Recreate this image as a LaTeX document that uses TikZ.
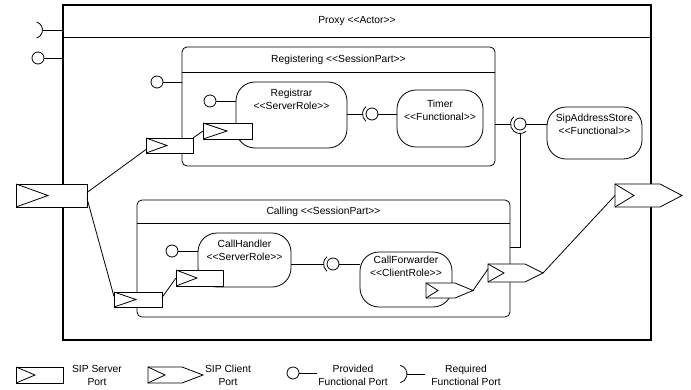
\documentclass[tikz,border=0pt]{standalone}
\usepackage{fontspec}
\setmainfont{Liberation Sans}
\usetikzlibrary{calc}
\newcommand\stlt{<\kern0pt<}
\newcommand\stgt{>\kern0pt>}
\tikzset{
  ln/.style={line width=0.8pt},
  box/.style={draw, line width=0.8pt, inner sep=0pt, outer sep=0pt, anchor=north west},
  sessbox/.style={box, rounded corners=5pt},
  rolebox/.style={box, rounded corners=19pt},
  lbl/.style={font=\fontsize{10.3}{13}\selectfont, align=center, inner sep=0pt},
  portbox/.style={draw, fill=white, line width=0.8pt, inner sep=0pt, outer sep=0pt, anchor=north west},
}
\newcommand\srvport[6]{%
  \node[portbox, minimum width=#4pt, minimum height=#5pt] (#1) at (#2,#3) {};
  \draw[ln] (#1.north west) -- ([xshift=#6pt]#1.west) -- (#1.south west);}
\newcommand\cliport[7]{%
  \draw[ln, fill=white] (#2,#3) -- (#4,#3) -- (#5,{(#3+#6)/2}) -- (#4,#6) -- (#2,#6) -- cycle;
  \draw[ln] (#2,#3) -- ({#2+#7},{(#3+#6)/2}) -- (#2,#6);
  \coordinate (#1-w) at (#2,{(#3+#6)/2});
  \coordinate (#1-tip) at (#5,{(#3+#6)/2});}
\begin{document}
\begin{tikzpicture}[x=1pt,y=-1pt]
\useasboundingbox[fill=white] (0,0) rectangle (691,389);
% Proxy
\node[box, line width=1.4pt, minimum width=588pt, minimum height=335pt] (proxy) at (63,5) {};
\draw[ln] ($(proxy.north west)+(0,32)$) -- ($(proxy.north east)+(0,32)$);
\node[lbl] (proxyt) at (357,21) {Proxy \stlt Actor\stgt};
% top-left ports of proxy
\coordinate (reqc) at (34,30);
\draw[ln] ($(reqc)+(-72:8.5)$) arc[start angle=-72, end angle=72, radius=8.5];
\coordinate (reqe) at (42.5,30);
\draw[ln] (reqe) -- (reqe -| proxy.west);
\node[draw, circle, ln, minimum size=12pt, inner sep=0pt, outer sep=0pt] (provp) at (38,58) {};
\draw[ln] (provp.east) -- (provp -| proxy.west);
% Registering
\node[sessbox, minimum width=313pt, minimum height=119pt] (registering) at (182,47) {};
\draw[ln] ($(registering.north west)+(0,25)$) -- ($(registering.north east)+(0,25)$);
\node[lbl] (registeringt) at (338.5,59.5) {Registering \stlt SessionPart\stgt};
\node[draw, circle, ln, minimum size=12pt, inner sep=0pt, outer sep=0pt] (regprov) at (157,82) {};
\draw[ln] (regprov.east) -- (regprov -| registering.west);
% Registrar
\node[rolebox, minimum width=111pt, minimum height=66pt] (registrar) at (236,82) {};
\node[lbl] (registrart) at (291.5,99.5) {Registrar\\\stlt ServerRole\stgt};
\node[draw, circle, ln, minimum size=12pt, inner sep=0pt, outer sep=0pt] (rrprov) at (210,101) {};
\draw[ln] (rrprov.east) -- (rrprov -| registrar.west);
% Timer
\node[rolebox, minimum width=86pt, minimum height=57pt] (timer) at (397,90) {};
\node[lbl] (timert) at (440,110) {Timer\\\stlt Functional\stgt};
\node[draw, circle, ln, minimum size=12pt, inner sep=0pt, outer sep=0pt] (tprov) at (372,114) {};
\draw[ln] ($(tprov)+(130:9.5)$) arc[start angle=130, end angle=230, radius=9.5];
\draw[ln] (tprov -| registrar.east) -- ($(tprov)+(-9.5,0)$);
\draw[ln] (tprov.east) -- (tprov -| timer.west);
% SipAddressStore
\node[rolebox, minimum width=95pt, minimum height=52pt] (sas) at (547,107) {};
\node[lbl] (sast) at (594.5,124) {SipAddressStore\\\stlt Functional\stgt};
\node[draw, circle, ln, minimum size=12pt, inner sep=0pt, outer sep=0pt] (sprov) at (520,124) {};
\draw[ln] ($(sprov)+(130:9.5)$) arc[start angle=130, end angle=230, radius=9.5];
\draw[ln] ($(sprov)+(50:9.5)$) arc[start angle=50, end angle=130, radius=9.5];
\draw[ln] (sprov -| registering.east) -- ($(sprov)+(-9.5,0)$);
\draw[ln] (sprov.east) -- (sprov -| sas.west);
% Calling
\node[sessbox, minimum width=373pt, minimum height=117pt] (calling) at (137,200) {};
\draw[ln] ($(calling.north west)+(0,23)$) -- ($(calling.north east)+(0,23)$);
\node[lbl] (callingt) at (323.5,211.5) {Calling \stlt SessionPart\stgt};
\coordinate (sbend) at (520,247);
\draw[ln] ($(sprov)+(0,9.5)$) -- (sbend) -- (sbend -| calling.east);
% CallHandler
\node[rolebox, minimum width=93pt, minimum height=54pt] (ch) at (198,233) {};
\node[lbl] (cht) at (244.5,250.5) {CallHandler\\\stlt ServerRole\stgt};
\node[draw, circle, ln, minimum size=12pt, inner sep=0pt, outer sep=0pt] (chprov) at (172,251) {};
\draw[ln] (chprov.east) -- (chprov -| ch.west);
% CallForwarder
\node[rolebox, minimum width=92pt, minimum height=55pt] (cf) at (360,252) {};
\node[lbl] (cft) at (406,266.5) {CallForwarder\\\stlt ClientRole\stgt};
\node[draw, circle, ln, minimum size=12pt, inner sep=0pt, outer sep=0pt] (cfprov) at (333,264) {};
\draw[ln] ($(cfprov)+(130:9.5)$) arc[start angle=130, end angle=230, radius=9.5];
\draw[ln] (cfprov -| ch.east) -- ($(cfprov)+(-9.5,0)$);
\draw[ln] (cfprov.east) -- (cfprov -| cf.west);
% SIP ports
\srvport{proxyport}{16}{184}{71}{23}{32}
\srvport{regport}{146}{138}{47}{15}{21}
\srvport{rrport}{203}{123}{49}{16}{24}
\srvport{callport}{114}{292}{48}{15}{22}
\srvport{chport}{176}{270}{47}{16}{21}
\cliport{cfport}{426}{283}{455}{473}{298}{12}
\cliport{callcport}{488}{264}{525}{543}{282}{16}
\cliport{proxycport}{615}{184}{660}{682}{207}{19}
% SIP connectors
\draw[ln] ([yshift=3pt]proxyport.east) -- ([yshift=-4pt]regport.west);
\draw[ln] ([yshift=-3pt]proxyport.east) -- ([yshift=3pt]callport.west);
\draw[ln] (regport.north east) -- (rrport.west);
\draw[ln] ([yshift=2pt]callport.east) -- (chport.west);
\draw[ln] (cfport-tip) -- ([yshift=4pt]callcport-w);
\draw[ln] (callcport-tip) -- (proxycport-w);
% Legend
\srvport{lgsrv}{16}{367}{47}{16}{19}
\node[lbl] (lgsrvt) at (97,375) {SIP Server\\Port};
\cliport{lgcli}{148}{367}{182}{203}{383}{17}
\node[lbl] (lgclit) at (228,375) {SIP Client\\Port};
\node[draw, circle, ln, minimum size=12pt, inner sep=0pt, outer sep=0pt] (lgprov) at (293,373) {};
\coordinate (lgprove) at (317,373);
\draw[ln] (lgprov.east) -- (lgprove);
\node[lbl] (lgprovt) at (353,375) {Provided\\Functional Port};
\coordinate (lgreqc) at (398,374);
\draw[ln] ($(lgreqc)+(-75:9)$) arc[start angle=-75, end angle=75, radius=9];
\coordinate (lgreqa) at (407,374);
\coordinate (lgreqe) at (425,374);
\draw[ln] (lgreqa) -- (lgreqe);
\node[lbl] (lgreqt) at (466,375) {Required\\Functional Port};
\end{tikzpicture}
\end{document}
